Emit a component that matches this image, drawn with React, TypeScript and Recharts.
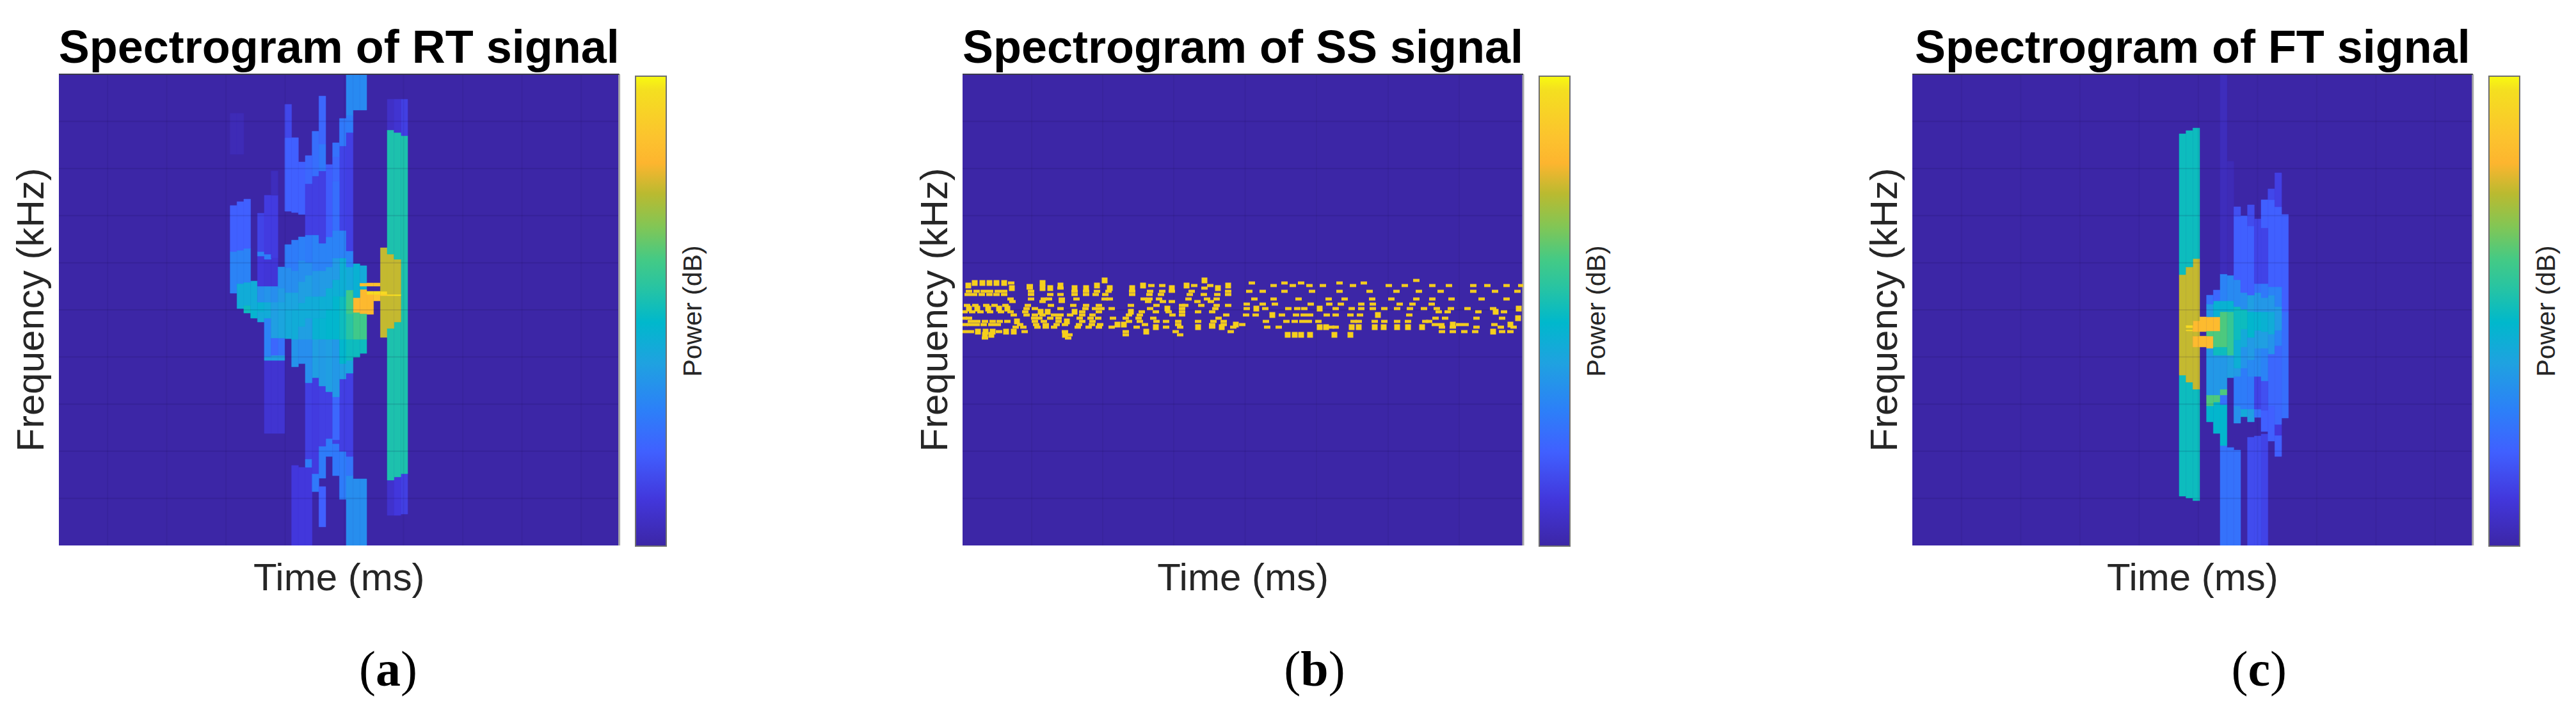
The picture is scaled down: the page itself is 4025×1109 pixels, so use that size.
import React from 'react';
import { ComposedChart, BarChart, Bar, Cell, Scatter, XAxis, YAxis, ReferenceLine, CartesianGrid } from 'recharts';

type Seg = [number, number, number]; // low bin, high bin, power (0..1)

const chartHeight = 1109;
const plotTop = 116;
const plotBottom = 852;
const freqMax = 736;
const freqTicks = [73.6, 147.2, 220.8, 294.4, 368, 441.6, 515.2, 588.8, 662.4];

// colorbar stops: position 0..1, colour
const colorStops: [number, string][] = [
  [0, '#3c26a6'], [0.1, '#4237dc'], [0.2, '#4060ff'], [0.29, '#2c80f8'], [0.39, '#1fa2e0'],
  [0.476, '#00b8cc'], [0.545, '#25c3a5'], [0.61, '#44ca85'], [0.68, '#82c655'], [0.75, '#baba30'],
  [0.815, '#fdb52f'], [0.87, '#fcc32e'], [0.97, '#f4df20'], [1, '#f8fa10'],
];

const rtTimeTicks = [7.13, 15.8, 24.47, 33.14, 41.81, 50.48, 59.15, 67.82, 76.49];
const ftTimeTicks = [7.2, 15.87, 24.54, 33.21, 41.88, 50.55, 59.22, 67.89, 76.56];
const ssTimeTicks = [108, 219, 330, 441.6, 553, 665, 776];

const rtFirstColumn = 25;
const rtColumns: Seg[][] = [
  [[394, 459, 0.3], [459, 531, 0.2], [611, 675, 0.03]],
  [[370, 409, 0.43], [409, 461, 0.3], [461, 537, 0.2], [611, 675, 0.03]],
  [[363, 375, 0.5], [375, 411, 0.43], [411, 464, 0.3], [464, 541, 0.2]],
  [[355, 369, 0.46], [369, 413, 0.43]],
  [[349, 365, 0.42], [365, 380, 0.45], [380, 405, 0.33], [405, 452, 0.1], [452, 459, 0.3], [459, 519, 0.13]],
  [[175, 289, 0.08], [289, 295, 0.38], [295, 355, 0.3], [355, 380, 0.43], [380, 405, 0.35], [405, 447, 0.09], [447, 455, 0.28], [455, 547, 0.11]],
  [[175, 289, 0.08], [289, 297, 0.38], [297, 324, 0.22], [324, 380, 0.38], [380, 405, 0.33], [405, 449, 0.09], [449, 547, 0.11], [547, 585, 0.04]],
  [[175, 289, 0.08], [289, 297, 0.38], [297, 324, 0.25], [324, 380, 0.4], [380, 402, 0.37], [402, 435, 0.33]],
  [[323, 369, 0.42], [369, 395, 0.4], [395, 434, 0.33], [434, 470, 0.28], [522, 637, 0.2], [637, 689, 0.14]],
  [[0, 125, 0.1], [279, 322, 0.35], [322, 369, 0.43], [369, 395, 0.4], [395, 429, 0.33], [429, 477, 0.28], [520, 637, 0.2]],
  [[0, 122, 0.1], [284, 322, 0.33], [322, 342, 0.38], [342, 379, 0.43], [379, 412, 0.38], [412, 445, 0.33], [445, 482, 0.29], [517, 599, 0.2]],
  [[0, 122, 0.1], [122, 135, 0.28], [135, 254, 0.12], [254, 322, 0.33], [322, 355, 0.38], [355, 389, 0.43], [389, 422, 0.38], [422, 442, 0.33], [442, 485, 0.28], [485, 565, 0.12], [565, 609, 0.22]],
  [[84, 112, 0.27], [112, 262, 0.11], [262, 322, 0.38], [322, 355, 0.45], [355, 389, 0.43], [389, 429, 0.36], [429, 485, 0.3], [485, 577, 0.12], [577, 647, 0.24]],
  [[29, 92, 0.2], [105, 155, 0.28], [155, 249, 0.12], [249, 322, 0.37], [322, 355, 0.46], [355, 389, 0.44], [389, 429, 0.37], [429, 472, 0.3], [472, 585, 0.12], [585, 627, 0.27], [627, 702, 0.22]],
  [[139, 167, 0.28], [167, 240, 0.12], [240, 322, 0.38], [322, 369, 0.47], [369, 402, 0.44], [402, 435, 0.37], [435, 482, 0.3], [482, 595, 0.19]],
  [[109, 159, 0.27], [159, 165, 0.12], [165, 232, 0.22], [232, 322, 0.36], [322, 389, 0.47], [389, 415, 0.44], [415, 449, 0.37], [449, 492, 0.3], [492, 569, 0.24], [569, 607, 0.22], [607, 629, 0.25]],
  [[72, 147, 0.28], [147, 260, 0.12], [260, 284, 0.38], [284, 322, 0.47], [322, 389, 0.5], [389, 449, 0.44], [449, 492, 0.3], [492, 624, 0.13], [624, 667, 0.27]],
  [[0, 109, 0.33], [109, 139, 0.26], [139, 269, 0.12], [269, 289, 0.4], [289, 322, 0.5], [322, 362, 0.55], [362, 399, 0.6], [399, 435, 0.42], [435, 460, 0.3], [460, 645, 0.12], [645, 672, 0.28], [672, 736, 0.32]],
  [[0, 104, 0.33], [294, 322, 0.5], [322, 364, 0.6], [364, 387, 0.83], [387, 440, 0.45], [680, 736, 0.32]],
  [[0, 104, 0.33], [300, 322, 0.5], [322, 362, 0.6], [362, 400, 0.83], [400, 405, 0.45], [405, 410, 0.85], [410, 437, 0.42], [680, 736, 0.32]],
  [[361, 392, 0.83], [392, 397, 0.95], [405, 410, 0.85]],
  [[382, 392, 0.87], [392, 397, 0.95], [405, 410, 0.85]],
  [[325, 390, 0.76], [390, 392, 0.9], [392, 397, 0.95], [397, 465, 0.76]],
  [[47, 102, 0.07], [102, 339, 0.53], [339, 390, 0.76], [390, 392.5, 0.95], [392.5, 455, 0.76], [455, 649, 0.53], [649, 697, 0.06]],
  [[47, 107, 0.1], [107, 349, 0.53], [349, 390, 0.76], [390, 392.5, 0.97], [392.5, 447, 0.76], [447, 645, 0.53], [645, 697, 0.08]],
  [[49, 112, 0.12], [112, 640, 0.53], [640, 697, 0.12]],
];

const ftFirstColumn = 39;
const ftColumns: Seg[][] = [
  [[77, 266, 0.5], [266, 423, 0.76], [423, 643, 0.5]],
  [[74, 255, 0.5], [255, 335, 0.76], [335, 337, 0.95], [337, 340, 0.76], [340, 344, 0.95], [344, 435, 0.76], [435, 648, 0.5]],
  [[70, 244, 0.5], [244, 310, 0.76], [310, 327, 0.84], [327, 334, 0.76], [334, 351, 0.84], [351, 448, 0.76], [448, 652, 0.5]],
  [[310, 327, 0.84], [334, 357, 0.84]],
  [[193, 218, 0.47], [218, 235, 0.62], [235, 308, 0.36], [308, 327, 0.84], [327, 335, 0.62], [335, 357, 0.84], [357, 377, 0.36], [377, 391, 0.25]],
  [[175, 224, 0.47], [224, 235, 0.62], [235, 297, 0.36], [297, 310, 0.5], [310, 335, 0.62], [335, 357, 0.84], [357, 382, 0.45], [382, 399, 0.22]],
  [[0, 156, 0.25], [156, 220, 0.47], [220, 235, 0.25], [235, 244, 0.62], [244, 297, 0.36], [297, 310, 0.5], [310, 365, 0.62], [365, 382, 0.45], [382, 424, 0.3], [424, 736, 0.04]],
  [[0, 153, 0.25], [262, 297, 0.38], [297, 365, 0.58], [365, 382, 0.46], [382, 422, 0.32], [422, 600, 0.03]],
  [[0, 149, 0.25], [191, 218, 0.34], [218, 264, 0.28], [264, 277, 0.37], [277, 321, 0.44], [321, 373, 0.5], [373, 415, 0.32], [415, 514, 0.2], [514, 529, 0.16]],
  [[201, 213, 0.42], [213, 264, 0.28], [264, 277, 0.28], [277, 310, 0.35], [310, 338, 0.42], [338, 369, 0.5], [369, 395, 0.33], [395, 515, 0.2]],
  [[0, 169, 0.15], [193, 213, 0.38], [213, 264, 0.27], [264, 290, 0.32], [290, 325, 0.37], [325, 365, 0.47], [365, 391, 0.38], [391, 499, 0.2], [499, 532, 0.15]],
  [[0, 171, 0.15], [200, 213, 0.25], [213, 264, 0.13], [264, 308, 0.32], [308, 336, 0.38], [336, 365, 0.46], [365, 395, 0.36], [395, 409, 0.25], [409, 510, 0.13]],
  [[0, 174, 0.13], [178, 211, 0.2], [211, 257, 0.16], [257, 308, 0.3], [308, 334, 0.38], [334, 365, 0.45], [365, 387, 0.36], [387, 409, 0.27], [409, 496, 0.13], [496, 540, 0.2]],
  [[163, 218, 0.2], [218, 299, 0.22], [299, 330, 0.35], [330, 365, 0.43], [365, 391, 0.36], [391, 404, 0.3], [404, 540, 0.2], [540, 557, 0.14]],
  [[139, 172, 0.2], [172, 189, 0.1], [189, 312, 0.22], [312, 336, 0.3], [336, 373, 0.37], [373, 404, 0.3], [404, 529, 0.2], [529, 582, 0.12]],
  [[199, 365, 0.24], [365, 517, 0.2]],
];

// SS signal: speckles grouped by frequency row, [bin, thin dashes, full squares]
const ssRows: [number, number[], number[]][] = [
  [414, [709], [222, 378]],
  [410, [76, 452, 503, 529, 589, 627], [19, 31, 42, 53, 65, 125]],
  [406, [105, 295, 312, 387, 362, 486, 516, 542, 563, 610, 666, 691, 734, 760, 798, 820, 850, 873], [9, 153, 210, 282, 350, 415]],
  [402, [105, 153, 378], [77, 125, 137, 230, 175, 193, 399, 265, 327]],
  [397, [10, 22, 33, 43, 55, 65, 107, 175, 193, 210, 228, 265, 293, 312, 327, 358, 415, 448, 469, 503, 546, 589, 636, 678, 713, 747, 798, 832, 867], []],
  [392, [8, 18, 30, 42, 53, 65, 107, 137, 153, 175, 193, 208, 223, 265, 292, 310, 355, 377, 398, 415], []],
  [385, [75, 107, 135, 127, 155, 178, 230, 222, 283, 292, 307, 353, 382, 397, 456, 486, 525, 572, 597, 640, 670, 709, 734, 764, 811, 850], []],
  [381, [78, 125, 155, 290, 313, 327, 367, 388], []],
  [377, [444, 469, 488, 544, 573, 591, 623, 641, 683, 703, 733], []],
  [375, [7, 20, 37, 50, 67, 102, 138, 173, 193, 213, 263, 303, 343, 348, 373, 397, 415], []],
  [370, [100, 113, 153, 192, 207, 217, 233, 293, 343, 395, 444, 473, 509, 523, 534, 583, 608, 623, 641, 659, 679, 699, 721, 741, 763, 789, 829], [10, 23, 40, 57, 70, 320, 459, 558, 869]],
  [365, [3, 15, 28, 43, 60, 75, 98, 187, 213, 280, 302, 322, 343, 368, 390, 744, 758, 806, 846], [122, 133, 175, 263, 833]],
  [360, [80, 100, 113, 125, 143, 153, 168, 187, 203, 260, 277, 328, 343, 412, 443, 458, 499, 521, 533, 543, 569, 583, 606, 621, 698], [484, 649]],
  [355, [2, 10, 112, 120, 137, 150, 183, 200, 212, 235, 255, 275, 298, 400, 739, 754, 803, 843], [868]],
  [350, [13, 23, 35, 47, 58, 70, 113, 127, 150, 187, 203, 260, 277, 303, 318, 337, 368, 392, 408, 474, 506, 519, 531, 541, 556, 611, 619, 644, 659, 679, 696, 723, 729], [85, 163]],
  [345, [3, 12, 22, 33, 45, 55, 90, 115, 130, 147, 160, 182, 202, 215, 285, 337, 390, 408, 437, 738, 748, 776, 786, 831], [242, 252, 427, 766, 856]],
  [341, [83, 95, 180, 197, 213, 117, 130, 143, 233, 272, 318, 390, 423, 340, 476, 494, 576, 583, 749, 766, 803, 841, 861], [302, 368, 405, 558, 568, 619, 658, 679, 696, 718, 644, 608]],
  [334, [3, 13, 57, 97, 160, 255, 333, 419, 749, 766, 784, 801, 843, 856], [24, 36, 47, 68, 80, 287, 829]],
  [329, [167, 255, 340], [35, 45, 160, 508, 519, 529, 543, 581, 606]],
  [324, [35, 165], []],
];

const ssDashPoints = ssRows.flatMap(([f, dashes]) => dashes.map((t) => ({ t, f })));
const ssSquarePoints = ssRows.flatMap(([f, , squares]) => squares.map((t) => ({ t, f })));

const hexToRgb = (hex: string) => [1, 3, 5].map((i) => parseInt(hex.slice(i, i + 2), 16));

// look up a power value on the colorbar
const powerColor = (p: number) => {
  for (let i = 1; i < colorStops.length; i++) {
    const [p1, c1] = colorStops[i];
    if (p <= p1) {
      const [p0, c0] = colorStops[i - 1];
      const k = (p - p0) / (p1 - p0);
      const a = hexToRgb(c0);
      const b = hexToRgb(c1);
      return `rgb(${a.map((v, j) => Math.round(v + (b[j] - v) * k)).join(',')})`;
    }
  }
  return colorStops[colorStops.length - 1][1];
};

// every time column becomes one stacked bar: gap, segment, gap, segment ...
const buildStack = (columns: Seg[][], firstColumn: number) => {
  const layers = Math.max(...columns.map((c) => c.length)) * 2;
  const colors: string[][] = [];
  const rows = columns.map((segs, i) => {
    const row: Record<string, number> = { t: firstColumn + i + 0.58 };
    const fills: string[] = [];
    let level = 0;
    [...segs].sort((a, b) => a[0] - b[0]).forEach(([lo, hi, p], k) => {
      row[`l${k * 2}`] = lo - level;
      row[`l${k * 2 + 1}`] = hi - lo;
      fills[k * 2 + 1] = powerColor(p);
      level = hi;
    });
    colors.push(fills);
    return row;
  });
  return { rows, colors, layers };
};

const sans = 'Liberation Sans';
const inkColor = '#262626';

type PanelProps = {
  left: number;
  width: number;
  timeMax: number;
  timeTicks: number[];
  title: string;
  caption: string;
  captionX: number;
  data?: Record<string, number>[];
  barSize?: number;
  children?: React.ReactNode;
};

const pad = 92;

const Panel = ({ left, width, timeMax, timeTicks, title, caption, captionX, data, barSize, children }: PanelProps) => (
  <div style={{ position: 'absolute', left: left - pad, top: 0 }}>
    <ComposedChart
      width={width + pad + 6}
      height={chartHeight}
      data={data}
      barSize={barSize}
      margin={{ left: pad, right: 6, top: plotTop, bottom: chartHeight - plotBottom }}
    >
      <CartesianGrid horizontal={false} vertical={false} fill="#3c26a6" />
      <XAxis
        dataKey="t"
        type="number"
        domain={[0, timeMax]}
        ticks={timeTicks}
        tick={false}
        height={0}
        tickSize={-8}
        tickLine={{ stroke: '#2a2060', strokeWidth: 2 }}
        axisLine={{ stroke: '#b0b0b0', strokeWidth: 3 }}
        allowDataOverflow
      />
      <YAxis
        type="number"
        domain={[0, freqMax]}
        ticks={freqTicks}
        tick={false}
        width={0}
        tickSize={-8}
        tickLine={{ stroke: '#2a2060', strokeWidth: 2 }}
        axisLine={{ stroke: '#4a4a6a', strokeWidth: 2 }}
        allowDataOverflow
      />
      {children}
      {timeTicks.map((t) => (
        <ReferenceLine key={t} x={t} stroke="rgba(20,10,60,0.08)" strokeWidth={2} />
      ))}
      {freqTicks.map((f) => (
        <ReferenceLine key={f} y={f} stroke="rgba(20,10,60,0.12)" strokeWidth={2} />
      ))}
      <ReferenceLine x={timeMax} stroke="#a8a8a8" strokeWidth={3} />
      <ReferenceLine y={freqMax} stroke="#3a3a4a" strokeWidth={2} />
      <text x={pad + width / 2} y={98} textAnchor="middle" fontFamily={sans} fontWeight="bold" fontSize={72} fill="#000">
        {title}
      </text>
      <text x={pad + width / 2} y={922} textAnchor="middle" fontFamily={sans} fontSize={60} fill={inkColor}>
        Time (ms)
      </text>
      <text
        transform={`translate(${pad - 24},484) rotate(-90)`}
        textAnchor="middle"
        fontFamily={sans}
        fontSize={60}
        fill={inkColor}
      >
        Frequency (kHz)
      </text>
      <text x={captionX - left + pad} y={1071} textAnchor="middle" fontFamily="Liberation Serif" fontSize={78} fill="#000">
        (<tspan fontWeight="bold">{caption}</tspan>)
      </text>
    </ComposedChart>
  </div>
);

const colorbarRow = [{ name: 'power', range: [0, 1] }];

const Colorbar = ({ left, id }: { left: number; id: string }) => (
  <div style={{ position: 'absolute', left, top: 0 }}>
    <BarChart
      width={140}
      height={chartHeight}
      data={colorbarRow}
      barCategoryGap={0}
      margin={{ left: 1, right: 91, top: 119, bottom: chartHeight - 853 }}
    >
      <defs>
        <linearGradient id={id} x1="0" y1="1" x2="0" y2="0">
          {colorStops.map(([p, c]) => (
            <stop key={p} offset={p} stopColor={c} />
          ))}
        </linearGradient>
      </defs>
      <XAxis dataKey="name" hide />
      <YAxis type="number" domain={[0, 1]} hide />
      <Bar dataKey="range" fill={`url(#${id})`} stroke="#6f6f6f" strokeWidth={2} isAnimationActive={false} />
      <text
        transform="translate(104,486) rotate(-90)"
        textAnchor="middle"
        fontFamily={sans}
        fontSize={41}
        fill={inkColor}
      >
        Power (dB)
      </text>
    </BarChart>
  </div>
);

const renderStack = ({ colors, layers }: ReturnType<typeof buildStack>) =>
  Array.from({ length: layers }, (_, l) => (
    <Bar key={l} dataKey={`l${l}`} stackId="s" isAnimationActive={false}>
      {colors.map((fills, i) => (
        <Cell
          key={i}
          fill={fills[l] ?? 'none'}
          stroke={fills[l] ?? 'none'}
          strokeWidth={fills[l] ? 0.5 : 0}
        />
      ))}
    </Bar>
  ));

const rtStack = buildStack(rtColumns, rtFirstColumn);
const ftStack = buildStack(ftColumns, ftFirstColumn);

const dashShape = (p: any) => <rect x={p.cx - 5} y={p.cy - 2.4} width={10} height={4.8} fill="#f2cb1f" />;
const squareShape = (p: any) => <rect x={p.cx - 4.5} y={p.cy - 4.5} width={9} height={9} fill="#f6cf1c" />;

export default function App() {
  return (
    <div style={{ position: 'absolute', left: 0, top: 0, width: 4025, height: chartHeight, background: '#fff' }}>
      <Panel
        left={92.4}
        width={875.6}
        timeMax={82.06}
        timeTicks={rtTimeTicks}
        title="Spectrogram of RT signal"
        caption="a"
        captionX={607}
        data={rtStack.rows}
        barSize={10.67}
      >
        {renderStack(rtStack)}
      </Panel>
      <Colorbar left={992} id="cbA" />
      <Panel
        left={1504}
        width={876}
        timeMax={876}
        timeTicks={ssTimeTicks}
        title="Spectrogram of SS signal"
        caption="b"
        captionX={2054}
      >
        <Scatter data={ssDashPoints} dataKey="f" shape={dashShape} isAnimationActive={false} />
        <Scatter data={ssSquarePoints} dataKey="f" shape={squareShape} isAnimationActive={false} />
      </Panel>
      <Colorbar left={2404} id="cbB" />
      <Panel
        left={2988.2}
        width={875.8}
        timeMax={82.08}
        timeTicks={ftTimeTicks}
        title="Spectrogram of FT signal"
        caption="c"
        captionX={3530}
        data={ftStack.rows}
        barSize={10.67}
      >
        {renderStack(ftStack)}
      </Panel>
      <Colorbar left={3888} id="cbC" />
    </div>
  );
}
